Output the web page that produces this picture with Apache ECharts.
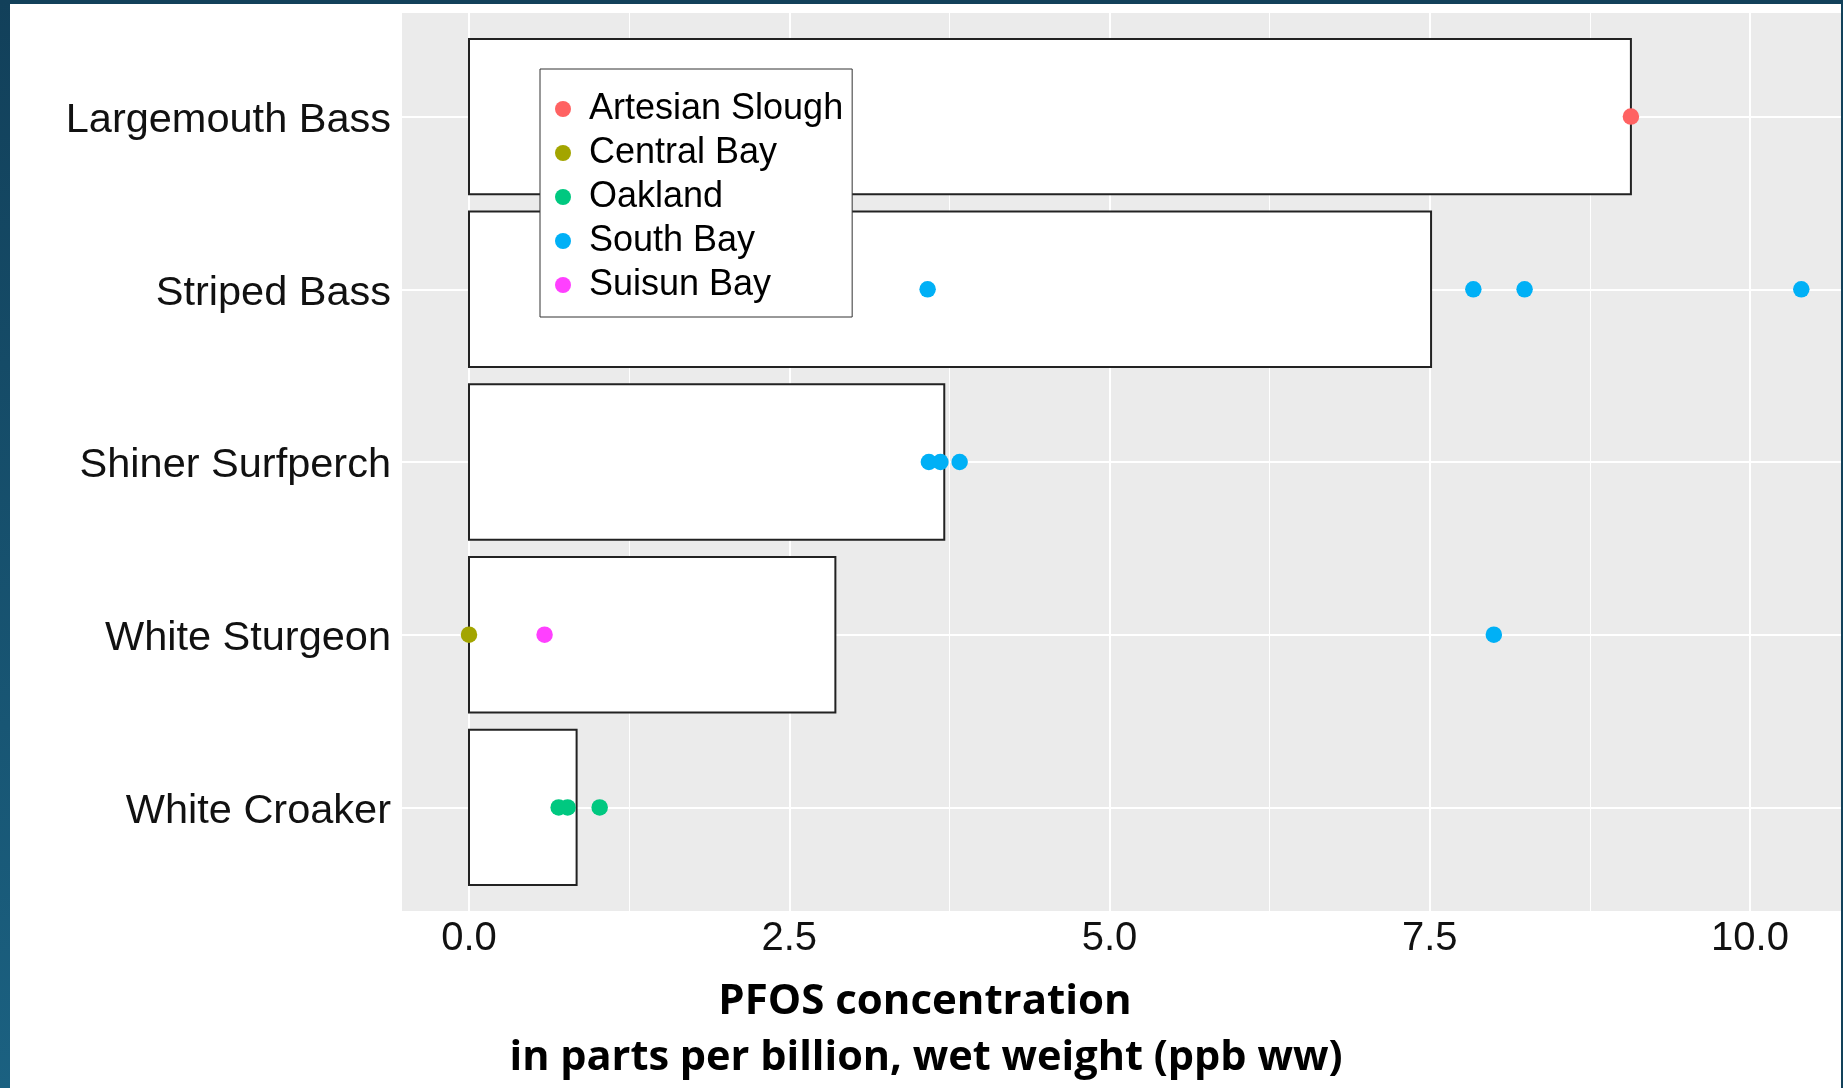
<!DOCTYPE html>
<html>
<head>
<meta charset="utf-8">
<script src="https://cdn.jsdelivr.net/npm/echarts@6/dist/echarts.min.js"></script>
<style>
  html, body { margin: 0; padding: 0; background: #fff; }
  #chart { width: 1843px; height: 1088px; }
</style>
</head>
<body>
<div id="chart"></div>
<script>
// fish species, top to bottom
var species = ["Largemouth Bass", "Striped Bass", "Shiner Surfperch", "White Sturgeon", "White Croaker"];
// bar length (mean PFOS, ppb ww) per species
var barValues = [9.07, 7.51, 3.71, 2.86, 0.84];

// samples: [PFOS, species index]
var artesianSlough = [[9.07, 0]];
var centralBay = [[0.0, 3]];
var oakland = [[0.70, 4], [0.77, 4], [1.02, 4]];
var southBay = [[3.58, 1], [7.84, 1], [8.24, 1], [10.40, 1], [3.59, 2], [3.68, 2], [3.83, 2], [8.00, 3]];
var suisunBay = [[0.59, 3]];

var xTicks = [0, 2.5, 5, 7.5, 10];
var xMinor = [1.25, 3.75, 6.25, 8.75];

var chart = echarts.init(document.getElementById("chart"));

var gridLine = function (key, v, w) {
  var d = { lineStyle: { color: "#fff", width: w, type: "solid" } };
  d[key] = v;
  return d;
};
var gridLines = []
  .concat(xTicks.map(function (v) { return gridLine("xAxis", v, 2); }))
  .concat(xMinor.map(function (v) { return gridLine("xAxis", v, 1); }))
  .concat(species.map(function (s, i) { return gridLine("yAxis", i, 2); }));

var dot = function (name, color, data) {
  return {
    name: name,
    type: "scatter",
    data: data,
    symbolSize: 16.5,
    itemStyle: { color: color, opacity: 1 },
    z: 4
  };
};

chart.setOption({
  animation: false,
  backgroundColor: "#fff",
  graphic: [
    { type: "rect", shape: { x: 0, y: 0, width: 1843, height: 4 }, style: { fill: "#12415a" } },
    {
      type: "rect", shape: { x: 0, y: 0, width: 10, height: 1088 },
      style: {
        fill: new echarts.graphic.LinearGradient(0, 0, 0, 1, [
          { offset: 0, color: "#12405a" },
          { offset: 1, color: "#1b6181" }
        ])
      }
    },
    { type: "rect", shape: { x: 1841, y: 0, width: 2, height: 1088 }, style: { fill: "#12415a" } },
    {
      type: "text", x: 925, y: 1002,
      style: {
        text: "PFOS concentration",
        textAlign: "center", textVerticalAlign: "middle",
        font: "bold 42px 'Open Sans'", fill: "#000"
      }
    },
    {
      type: "text", x: 926, y: 1058,
      style: {
        text: "in parts per billion, wet weight (ppb ww)",
        textAlign: "center", textVerticalAlign: "middle",
        font: "bold 41.5px 'Open Sans'", fill: "#000"
      }
    }
  ],
  grid: {
    left: 402, top: 13, right: 2, bottom: 177,
    show: true, backgroundColor: "#ebebeb", borderWidth: 0
  },
  legend: {
    data: ["Artesian Slough", "Central Bay", "Oakland", "South Bay", "Suisun Bay"],
    orient: "vertical",
    left: 540, top: 69,
    padding: [18, 9, 10, 15],
    itemGap: 0,
    itemWidth: 42, itemHeight: 16,
    icon: "circle",
    backgroundColor: "#fff",
    borderColor: "#333", borderWidth: 1,
    textStyle: { fontFamily: "Liberation Sans", fontSize: 36, lineHeight: 44, color: "#000" }
  },
  xAxis: {
    type: "value",
    min: -0.523, max: 10.71,
    axisLine: { show: false },
    splitLine: { show: false },
    axisTick: { show: true, customValues: xTicks, length: 3, lineStyle: { color: "#333" } },
    axisLabel: {
      customValues: xTicks, margin: 8,
      formatter: function (v) { return v.toFixed(1); },
      fontFamily: "Liberation Sans", fontSize: 40, color: "#111"
    }
  },
  yAxis: {
    type: "value",
    inverse: true,
    min: -0.6, max: 4.6,
    axisLine: { show: false },
    splitLine: { show: false },
    axisTick: { show: true, customValues: [0, 1, 2, 3, 4], length: 5, lineStyle: { color: "#333" } },
    axisLabel: {
      customValues: [0, 1, 2, 3, 4], margin: 11,
      formatter: function (v) { return "{s|" + species[Math.round(v)] + "}"; },
      rich: {
        s: { fontFamily: "Liberation Sans", fontSize: 41.5, color: "#111", padding: [8, 0, 0, 0] }
      }
    }
  },
  series: [
    {
      type: "scatter",
      data: [],
      silent: true,
      z: 1,
      markLine: { silent: true, z: 1, symbol: ["none", "none"], label: { show: false }, data: gridLines }
    },
    {
      type: "custom",
      z: 2,
      silent: true,
      data: barValues.map(function (v, i) { return [v, i]; }),
      renderItem: function (params, api) {
        var i = api.value(1);
        var a = api.coord([0, i - 0.45]);
        var b = api.coord([api.value(0), i + 0.45]);
        return {
          type: "rect",
          shape: { x: a[0], y: Math.min(a[1], b[1]), width: b[0] - a[0], height: Math.abs(b[1] - a[1]) },
          style: { fill: "#fff", stroke: "#222", lineWidth: 2 }
        };
      }
    },
    dot("Artesian Slough", "#ff6262", artesianSlough),
    dot("Central Bay", "#a3a500", centralBay),
    dot("Oakland", "#00c880", oakland),
    dot("South Bay", "#00b0f6", southBay),
    dot("Suisun Bay", "#ff40ff", suisunBay)
  ]
});
</script>
</body>
</html>
